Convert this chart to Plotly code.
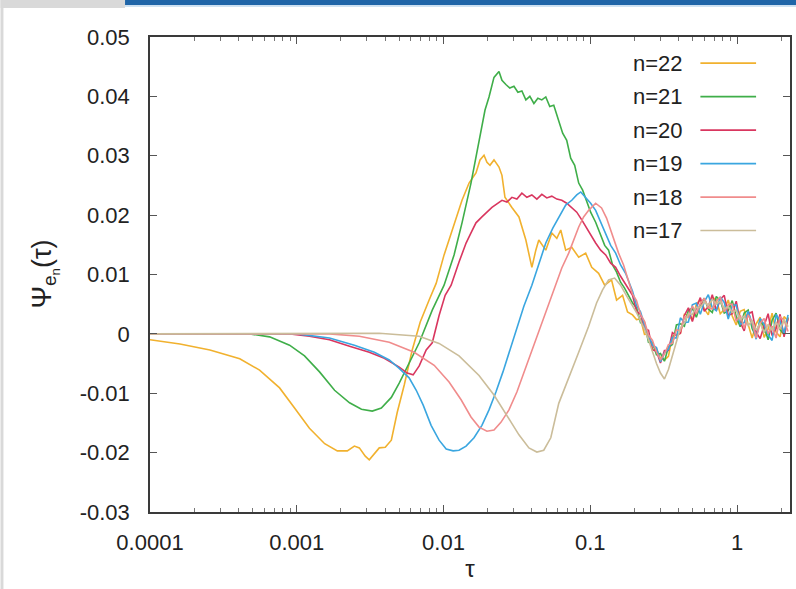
import plotly.graph_objects as go

# ---------------------------------------------------------------------------
# Autocorrelation Psi_{e_n}(tau) for shells n = 22 ... 17
# ---------------------------------------------------------------------------
NAMES = ["n=22", "n=21", "n=20", "n=19", "n=18", "n=17"]
COLORS = ["#f1b12e", "#3fae49", "#d9365f", "#3aa6e0", "#f08c8c", "#cbbd9a"]

# early-time part of each curve (tau, psi)
TAU_22 = [1.0e-4, 1.60e-4, 2.56e-4, 4.09e-4, 5.58e-4, 7.64e-4, 9.66e-4, 1.22e-3, 1.55e-3,
          1.89e-3, 2.21e-3, 2.47e-3, 2.67e-3, 2.93e-3, 3.12e-3, 3.38e-3, 3.65e-3, 4.01e-3,
          4.41e-3, 4.84e-3, 5.40e-3, 6.12e-3, 6.94e-3, 7.98e-3, 8.91e-3, 0.01009, 0.0118,
          0.01337, 0.01493, 0.01664, 0.01773, 0.01888, 0.01977, 0.02074, 0.02208, 0.02388,
          0.02502, 0.02622, 0.02924, 0.03266, 0.03640, 0.0400, 0.04256, 0.0446, 0.04977,
          0.05470, 0.05916, 0.06293, 0.06802, 0.07482, 0.0834, 0.09305, 0.1023, 0.1140,
          0.1254, 0.1396, 0.1511, 0.1660, 0.1795]
PSI_22 = [-0.0010, -0.0017, -0.0027, -0.0042, -0.0061, -0.0091, -0.0125, -0.0159, -0.0185,
          -0.0197, -0.0197, -0.0189, -0.0192, -0.0206, -0.0212, -0.0201, -0.0192, -0.0191,
          -0.0179, -0.0132, -0.0086, -0.0027, 0.0020, 0.0057, 0.0085, 0.0133, 0.0183,
          0.0225, 0.0254, 0.0271, 0.0293, 0.0301, 0.0289, 0.0284, 0.0293, 0.0281,
          0.0267, 0.0230, 0.0213, 0.0197, 0.0158, 0.0112, 0.0141, 0.0158, 0.0141,
          0.0170, 0.0161, 0.0175, 0.0141, 0.0146, 0.0129, 0.0136, 0.0112, 0.0102,
          0.0082, 0.0091, 0.0057, 0.0065, 0.0037]

TAU_21 = [1.0e-4, 4.78e-4, 6.53e-4, 8.93e-4, 1.13e-3, 1.43e-3, 1.81e-3, 2.29e-3, 2.76e-3,
          3.27e-3, 3.77e-3, 4.41e-3, 4.99e-3, 5.83e-3, 6.83e-3, 8.38e-3, 0.01009, 0.0118,
          0.01337, 0.01539, 0.01746, 0.01918, 0.02042, 0.02208, 0.02388, 0.02502, 0.02661,
          0.02830, 0.0302, 0.03213, 0.03420, 0.03640, 0.03875, 0.0413, 0.04395, 0.04677,
          0.04977, 0.05297, 0.0564, 0.0610, 0.06486, 0.06911, 0.07357, 0.07832, 0.0834,
          0.08873, 0.09443, 0.1006, 0.1088, 0.1177, 0.1254, 0.1333, 0.1419, 0.1511,
          0.1609, 0.1713, 0.1823]
PSI_21 = [0.0, 0.0, -0.0005, -0.0019, -0.0037, -0.0064, -0.0095, -0.0116, -0.0127,
          -0.0130, -0.0125, -0.0107, -0.0083, -0.0049, -0.0015, 0.0040, 0.0082, 0.0133,
          0.0187, 0.0254, 0.0326, 0.0377, 0.0399, 0.0432, 0.0442, 0.0427, 0.0420,
          0.0414, 0.0417, 0.0407, 0.0409, 0.0394, 0.0400, 0.0388, 0.0397, 0.0394,
          0.0399, 0.0383, 0.0385, 0.0360, 0.0338, 0.0326, 0.0296, 0.0284, 0.0254,
          0.0242, 0.0225, 0.0205, 0.0188, 0.0166, 0.0149, 0.0141, 0.0116, 0.0104,
          0.0087, 0.0077, 0.0064]

TAU_20 = [1.0e-4, 9.0e-4, 1.22e-3, 1.67e-3, 2.29e-3, 3.12e-3, 3.95e-3, 4.99e-3, 5.66e-3,
          6.21e-3, 6.83e-3, 7.62e-3, 8.38e-3, 9.33e-3, 0.01026, 0.01127, 0.01276, 0.01425,
          0.01539, 0.01664, 0.01827, 0.01977, 0.02138, 0.02312, 0.02502, 0.02705, 0.02924,
          0.03162, 0.03420, 0.03698, 0.0400, 0.04325, 0.04677, 0.05058, 0.05470, 0.05916,
          0.06397, 0.06911, 0.07482, 0.08091, 0.08750, 0.09443, 0.1006, 0.1088, 0.1177,
          0.1274, 0.1377, 0.1489, 0.1609, 0.1740, 0.1881]
PSI_20 = [0.0, 0.0, -0.0004, -0.0010, -0.0021, -0.0031, -0.0041, -0.0056, -0.0066,
          -0.0069, -0.0054, -0.0027, -0.0015, 0.0031, 0.0065, 0.0082, 0.0121, 0.0153,
          0.0170, 0.0187, 0.0197, 0.0205, 0.0213, 0.0219, 0.0225, 0.0222, 0.0230,
          0.0227, 0.0237, 0.0230, 0.0234, 0.0227, 0.0235, 0.0229, 0.0232, 0.0227,
          0.0225, 0.0220, 0.0213, 0.0205, 0.0192, 0.0178, 0.0166, 0.0153, 0.0141,
          0.0133, 0.0119, 0.0112, 0.0097, 0.0084, 0.0070]

TAU_19 = [1.0e-4, 1.0e-3, 1.67e-3, 2.47e-3, 3.38e-3, 4.27e-3, 4.99e-3, 5.83e-3, 6.52e-3,
          7.27e-3, 8.23e-3, 9.33e-3, 0.01043, 0.01162, 0.01276, 0.01425, 0.01614, 0.01827,
          0.02042, 0.02276, 0.02541, 0.02838, 0.03162, 0.03532, 0.0400, 0.0446, 0.04977,
          0.05555, 0.0610, 0.06802, 0.07482, 0.08091, 0.08612, 0.09305, 0.1006, 0.1088,
          0.1177, 0.1274, 0.1377, 0.1489, 0.1609, 0.1740, 0.1881]
PSI_19 = [0.0, 0.0, -0.0007, -0.0019, -0.0031, -0.0044, -0.0058, -0.0074, -0.0095,
          -0.0120, -0.0154, -0.0179, -0.0194, -0.0197, -0.0196, -0.0189, -0.0175, -0.0154,
          -0.0128, -0.0098, -0.0064, -0.0027, 0.0010, 0.0047, 0.0082, 0.0119, 0.0153,
          0.0178, 0.0197, 0.0217, 0.0225, 0.0234, 0.0239, 0.0230, 0.0220, 0.0208,
          0.0188, 0.0170, 0.0149, 0.0136, 0.0116, 0.0102, 0.0082]

TAU_18 = [1.0e-4, 1.67e-3, 2.67e-3, 4.27e-3, 6.31e-3, 8.64e-3, 0.01091, 0.01318, 0.01539,
          0.01746, 0.01977, 0.02208, 0.02461, 0.02793, 0.03162, 0.03581, 0.04067, 0.04608,
          0.0521, 0.05821, 0.06397, 0.0713, 0.0771, 0.0834, 0.0901, 0.0975, 0.1088,
          0.1194, 0.1291, 0.1377, 0.1465, 0.1559, 0.1686, 0.1823]
PSI_18 = [0.0, 0.0, -0.0004, -0.0014, -0.0031, -0.0053, -0.0081, -0.0111, -0.0140,
          -0.0157, -0.0164, -0.0162, -0.0149, -0.0128, -0.0098, -0.0061, -0.0024, 0.0013,
          0.0047, 0.0082, 0.0111, 0.0136, 0.0158, 0.0180, 0.0197, 0.0208, 0.0220,
          0.0212, 0.0195, 0.0175, 0.0155, 0.0136, 0.0116, 0.0091]

TAU_17 = [1.0e-4, 3.65e-3, 6.83e-3, 9.33e-3, 0.01276, 0.01746, 0.02208, 0.02705, 0.03266,
          0.0382, 0.04325, 0.0482, 0.05383, 0.0610, 0.0713, 0.0834, 0.0975, 0.1104,
          0.1213, 0.1333, 0.1465, 0.1609, 0.1768]
PSI_17 = [0.0, 0.0001, -0.0004, -0.0016, -0.0037, -0.0070, -0.0103, -0.0137, -0.0170,
          -0.0192, -0.0199, -0.0196, -0.0175, -0.0117, -0.0075, -0.0031, 0.0013, 0.0052,
          0.0074, 0.0091, 0.0094, 0.0082, 0.0064]

# late-time (noisy) part, shared tau grid
TAIL_TAU = [0.1941, 0.2066, 0.2200, 0.2342, 0.2493, 0.2654, 0.2826, 0.3008, 0.3202, 0.3409,
            0.3629, 0.3864, 0.4113, 0.4379, 0.4662, 0.4963, 0.5283, 0.5623, 0.5987, 0.6373,
            0.6785, 0.7223, 0.7689, 0.8185, 0.8713, 0.9277, 0.9876, 1.051, 1.119, 1.191,
            1.268, 1.350, 1.437, 1.530, 1.629, 1.734, 1.846, 1.965, 2.092, 2.227]
TAIL_22 = [0.0032, 0.0024, 0.0025, -0.0001, 0.0000, -0.0027, -0.0025, -0.0041, -0.0044, -0.0038,
           -0.0004, -0.0001, 0.0001, 0.0033, 0.0032, 0.0023, 0.0050, 0.0057, 0.0042, 0.0032,
           0.0062, 0.0057, 0.0034, 0.0041, 0.0057, 0.0030, 0.0015, 0.0038, 0.0041, 0.0016,
           -0.0007, 0.0017, 0.0028, -0.0006, 0.0008, 0.0035, 0.0003, -0.0005, 0.0029, 0.0022]
TAIL_21 = [0.0052, 0.0044, 0.0019, 0.0019, -0.0014, -0.0015, -0.0035, -0.0033, -0.0046, -0.0022,
           -0.0018, 0.0015, 0.0017, 0.0013, 0.0040, 0.0043, 0.0028, 0.0049, 0.0060, 0.0042,
           0.0036, 0.0063, 0.0056, 0.0035, 0.0039, 0.0056, 0.0029, 0.0012, 0.0035, 0.0040,
           0.0009, -0.0005, 0.0024, 0.0012, -0.0010, 0.0023, 0.0035, 0.0007, -0.0001, 0.0028]
TAIL_20 = [0.0065, 0.0038, 0.0033, 0.0009, 0.0006, -0.0027, -0.0029, -0.0049, -0.0028, -0.0028,
           0.0002, -0.0003, 0.0001, 0.0031, 0.0044, 0.0021, 0.0044, 0.0061, 0.0038, 0.0046,
           0.0066, 0.0039, 0.0058, 0.0065, 0.0031, 0.0034, 0.0055, 0.0020, 0.0005, 0.0034,
           0.0037, 0.0003, -0.0008, 0.0014, 0.0034, -0.0003, 0.0009, 0.0033, -0.0005, 0.0026]
TAIL_19 = [0.0072, 0.0048, 0.0037, 0.0015, -0.0002, -0.0019, -0.0023, -0.0047, -0.0032, -0.0026,
           -0.0006, -0.0007, 0.0027, 0.0019, 0.0020, 0.0049, 0.0052, 0.0033, 0.0054, 0.0066,
           0.0044, 0.0039, 0.0062, 0.0053, 0.0025, 0.0048, 0.0049, 0.0016, 0.0019, 0.0038,
           0.0017, -0.0009, 0.0026, 0.0016, -0.0002, -0.0011, 0.0033, 0.0021, 0.0001, 0.0032]
TAIL_18 = [0.0067, 0.0056, 0.0033, 0.0021, -0.0002, -0.0011, -0.0031, -0.0043, -0.0034, -0.0018,
           -0.0016, 0.0007, 0.0005, 0.0029, 0.0028, 0.0047, 0.0034, 0.0051, 0.0060, 0.0044,
           0.0042, 0.0055, 0.0062, 0.0037, 0.0049, 0.0050, 0.0021, 0.0032, 0.0009, 0.0032,
           0.0019, -0.0007, 0.0018, 0.0026, 0.0000, 0.0013, -0.0007, 0.0029, 0.0023, 0.0004]
TAIL_17 = [0.0048, 0.0036, 0.0022, 0.0008, -0.0010, -0.0030, -0.0050, -0.0066, -0.0076, -0.0060,
           -0.0036, -0.0010, 0.0010, 0.0018, 0.0034, 0.0033, 0.0045, 0.0044, 0.0054, 0.0048,
           0.0058, 0.0050, 0.0055, 0.0042, 0.0046, 0.0036, 0.0040, 0.0024, 0.0030, 0.0014,
           0.0022, 0.0006, 0.0018, 0.0002, 0.0016, 0.0006, 0.0020, 0.0008, 0.0024, 0.0012]

CURVES = [(TAU_22, PSI_22, TAIL_22), (TAU_21, PSI_21, TAIL_21), (TAU_20, PSI_20, TAIL_20),
          (TAU_19, PSI_19, TAIL_19), (TAU_18, PSI_18, TAIL_18), (TAU_17, PSI_17, TAIL_17)]

X_TICKS = [1e-4, 1e-3, 1e-2, 1e-1, 1]
X_TICKTEXT = ["0.0001", "0.001", "0.01", "0.1", "1"]
Y_TICKS = [-0.03, -0.02, -0.01, 0, 0.01, 0.02, 0.03, 0.04, 0.05]
Y_TICKTEXT = ["-0.03", "-0.02", "-0.01", "0", "0.01", "0.02", "0.03", "0.04", "0.05"]

FONT = "Liberation Sans, Arial, sans-serif"
INK = "#222222"

fig = go.Figure()
for name, color, (tau, psi, tail) in zip(NAMES, COLORS, CURVES):
    fig.add_trace(go.Scatter(
        x=tau + TAIL_TAU, y=psi + tail, mode="lines", name=name,
        line=dict(color=color, width=1.6), showlegend=False,
    ))

axis_common = dict(
    showline=True, linecolor="#3a3a3a", linewidth=1.5, mirror="allticks",
    ticks="inside", ticklen=7, tickwidth=1, tickcolor="#555",
    showgrid=False, zeroline=False,
    tickfont=dict(family=FONT, size=22, color=INK),
)

fig.update_xaxes(
    type="log", range=[-4, 0.361], tickvals=X_TICKS, ticktext=X_TICKTEXT,
    minor=dict(ticks="inside", ticklen=4, tickcolor="#777", dtick="D1", showgrid=False),
    ticklabelstandoff=10,
    title=dict(text="τ", font=dict(family=FONT, size=24, color=INK), standoff=6),
    **axis_common,
)
fig.update_yaxes(
    range=[-0.03, 0.05], tickvals=Y_TICKS, ticktext=Y_TICKTEXT,
    ticklabelstandoff=14,
    **axis_common,
)

# y-axis label
annotations = [dict(
    xref="paper", yref="paper", x=-0.164, y=0.50, xanchor="center", yanchor="middle",
    text="Ψ<sub>e<sub>n</sub></sub>(τ)", textangle=-90, showarrow=False,
    font=dict(family=FONT, size=27, color=INK),
)]

# key in the upper right: label to the left of the line sample
shapes = []
KEY_TOP = 0.945
KEY_STEP = 0.0705
for i, (name, color) in enumerate(zip(NAMES, COLORS)):
    yk = KEY_TOP - i * KEY_STEP
    annotations.append(dict(
        xref="paper", yref="paper", x=0.836, y=yk, xanchor="right", yanchor="middle",
        text=name, showarrow=False, font=dict(family=FONT, size=22, color=INK),
    ))
    shapes.append(dict(
        type="line", xref="paper", yref="paper", x0=0.860, x1=0.947, y0=yk, y1=yk,
        line=dict(color=color, width=1.6),
    ))

# page furniture around the figure: grey edge strips and blue header bar
shapes += [
    dict(type="rect", xref="paper", yref="paper", x0=-0.2336, x1=-0.039, y0=1.061, y1=1.078,
         fillcolor="#d9d9d9", line=dict(width=0), layer="below"),
    dict(type="rect", xref="paper", yref="paper", x0=-0.2336, x1=-0.2290, y0=-0.163, y1=1.078,
         fillcolor="#d9d9d9", line=dict(width=0), layer="below"),
    dict(type="rect", xref="paper", yref="paper", x0=-0.039, x1=1.01, y0=1.067, y1=1.078,
         fillcolor="#1f65a8", line=dict(width=0), layer="below"),
    dict(type="rect", xref="paper", yref="paper", x0=-0.039, x1=1.01, y0=1.063, y1=1.067,
         fillcolor="#cfe3f3", line=dict(width=0), layer="below"),
]

fig.update_layout(
    width=796, height=589,
    margin=dict(l=150, r=4, t=37, b=77),
    paper_bgcolor="white", plot_bgcolor="white",
    showlegend=False,
    annotations=annotations, shapes=shapes,
    font=dict(family=FONT, color=INK),
)

fig.write_html("out.html")
